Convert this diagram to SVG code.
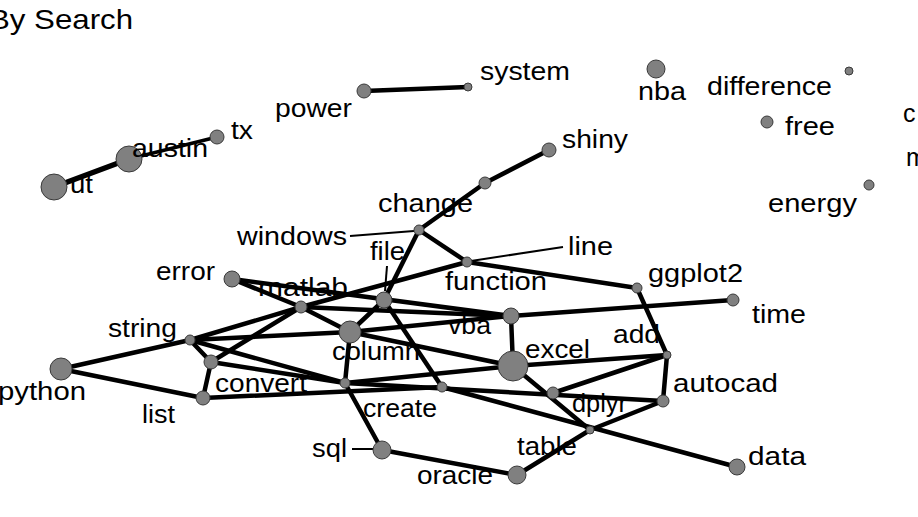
<svg xmlns="http://www.w3.org/2000/svg" width="918" height="517" viewBox="0 0 918 517">
<style>
.e{stroke:#000;stroke-width:4.5;stroke-linecap:round;fill:none}
.l{stroke:#000;stroke-width:2;fill:none}
.n{fill:#808080;stroke:#3a3a3a;stroke-width:1}
text{font-family:"Liberation Sans",Arial,sans-serif;font-size:25px;fill:#000}
.t{font-size:28px}
</style>
<rect width="918" height="517" fill="#fff"/>
<text class="t" x="-11" y="29" textLength="144" lengthAdjust="spacingAndGlyphs">By Search</text>
<g id="edges">
<line class="e" x1="54" y1="187" x2="129" y2="159" style="stroke-width:5.5"/>
<line class="e" x1="129" y1="159" x2="217" y2="137" style="stroke-width:3.5"/>
<line class="e" x1="364" y1="91" x2="468" y2="87"/>
<line class="e" x1="384" y1="300" x2="419" y2="230"/>
<line class="e" x1="419" y1="230" x2="485" y2="183"/>
<line class="e" x1="485" y1="183" x2="549" y2="150"/>
<line class="e" x1="419" y1="230" x2="467" y2="262"/>
<line class="e" x1="467" y1="262" x2="637" y2="288"/>
<line class="e" x1="301" y1="307" x2="467" y2="262"/>
<line class="e" x1="190" y1="340" x2="301" y2="307"/>
<line class="e" x1="232" y1="279" x2="511" y2="316"/>
<line class="e" x1="232" y1="279" x2="301" y2="307"/>
<line class="e" x1="301" y1="307" x2="350" y2="332"/>
<line class="e" x1="301" y1="307" x2="511" y2="316"/>
<line class="e" x1="511" y1="316" x2="513" y2="366"/>
<line class="e" x1="511" y1="316" x2="733" y2="300"/>
<line class="e" x1="350" y1="332" x2="511" y2="316"/>
<line class="e" x1="350" y1="332" x2="384" y2="300"/>
<line class="e" x1="350" y1="332" x2="345" y2="383"/>
<line class="e" x1="350" y1="332" x2="513" y2="366"/>
<line class="e" x1="190" y1="340" x2="350" y2="332"/>
<line class="e" x1="61" y1="369" x2="190" y2="340"/>
<line class="e" x1="61" y1="369" x2="203" y2="398"/>
<line class="e" x1="190" y1="340" x2="211" y2="362"/>
<line class="e" x1="211" y1="362" x2="301" y2="307"/>
<line class="e" x1="211" y1="362" x2="203" y2="398"/>
<line class="e" x1="211" y1="362" x2="345" y2="383"/>
<line class="e" x1="190" y1="340" x2="345" y2="383"/>
<line class="e" x1="203" y1="398" x2="442" y2="387"/>
<line class="e" x1="345" y1="383" x2="513" y2="366"/>
<line class="e" x1="345" y1="383" x2="663" y2="401"/>
<line class="e" x1="384" y1="300" x2="442" y2="387"/>
<line class="e" x1="442" y1="387" x2="737" y2="467"/>
<line class="e" x1="382" y1="450" x2="345" y2="383"/>
<line class="e" x1="382" y1="450" x2="517" y2="475"/>
<line class="e" x1="517" y1="475" x2="590" y2="430"/>
<line class="e" x1="590" y1="430" x2="663" y2="401"/>
<line class="e" x1="513" y1="366" x2="667" y2="355"/>
<line class="e" x1="553" y1="393" x2="667" y2="355"/>
<line class="e" x1="667" y1="355" x2="663" y2="401"/>
<line class="e" x1="637" y1="288" x2="667" y2="355"/>
<line class="e" x1="513" y1="366" x2="590" y2="430"/>
</g>
<g id="leaders">
<line class="l" x1="350" y1="236" x2="414" y2="231"/>
<line class="l" x1="387" y1="266" x2="385" y2="291"/>
<line class="l" x1="563" y1="247" x2="471" y2="261"/>
<line class="l" x1="352" y1="449" x2="373" y2="449"/>
</g>
<g id="node-ut"><circle class="n" cx="54" cy="187" r="13"/><text x="70" y="193" textLength="23" lengthAdjust="spacingAndGlyphs">ut</text></g>
<g id="node-austin"><circle class="n" cx="129" cy="159" r="13"/><text x="132" y="157" textLength="76" lengthAdjust="spacingAndGlyphs">austin</text></g>
<g id="node-tx"><circle class="n" cx="217" cy="137" r="7"/><text x="231" y="139" textLength="22" lengthAdjust="spacingAndGlyphs">tx</text></g>
<g id="node-power"><circle class="n" cx="364" cy="91" r="7"/><text x="275" y="117" textLength="77" lengthAdjust="spacingAndGlyphs">power</text></g>
<g id="node-system"><circle class="n" cx="468" cy="87" r="4"/><text x="480" y="80" textLength="90" lengthAdjust="spacingAndGlyphs">system</text></g>
<g id="node-nba"><circle class="n" cx="656" cy="69" r="9"/><text x="638" y="100" textLength="48" lengthAdjust="spacingAndGlyphs">nba</text></g>
<g id="node-difference"><circle class="n" cx="849" cy="71" r="4"/><text x="707" y="95" textLength="125" lengthAdjust="spacingAndGlyphs">difference</text></g>
<g id="node-free"><circle class="n" cx="767" cy="122" r="6"/><text x="785" y="135" textLength="50" lengthAdjust="spacingAndGlyphs">free</text></g>
<g id="node-energy"><circle class="n" cx="869" cy="185" r="5"/><text x="768" y="212" textLength="89" lengthAdjust="spacingAndGlyphs">energy</text></g>
<g id="label-c"><text x="903" y="122">c</text></g>
<g id="label-m"><text x="906" y="166">m</text></g>
<g id="node-shiny"><circle class="n" cx="549" cy="150" r="7"/><text x="562" y="148" textLength="66" lengthAdjust="spacingAndGlyphs">shiny</text></g>
<g id="node-change"><circle class="n" cx="485" cy="183" r="6"/><text x="378" y="212" textLength="95" lengthAdjust="spacingAndGlyphs">change</text></g>
<g id="node-windows"><circle class="n" cx="419" cy="230" r="5"/><text x="237" y="245" textLength="110" lengthAdjust="spacingAndGlyphs">windows</text></g>
<g id="node-file"><circle class="n" cx="384" cy="300" r="8"/><text x="370" y="260" textLength="35" lengthAdjust="spacingAndGlyphs">file</text></g>
<g id="node-function"><circle class="n" cx="467" cy="262" r="5"/><text x="445" y="290" textLength="102" lengthAdjust="spacingAndGlyphs">function</text><text x="568" y="255" textLength="45" lengthAdjust="spacingAndGlyphs">line</text></g>
<g id="node-ggplot2"><circle class="n" cx="637" cy="288" r="5"/><text x="648" y="282" textLength="95" lengthAdjust="spacingAndGlyphs">ggplot2</text></g>
<g id="node-time"><circle class="n" cx="733" cy="300" r="6"/><text x="752" y="323" textLength="54" lengthAdjust="spacingAndGlyphs">time</text></g>
<g id="node-error"><circle class="n" cx="232" cy="279" r="8"/><text x="156" y="280" textLength="59" lengthAdjust="spacingAndGlyphs">error</text></g>
<g id="node-matlab"><circle class="n" cx="301" cy="307" r="6"/><text x="258" y="296" textLength="90" lengthAdjust="spacingAndGlyphs">matlab</text></g>
<g id="node-string"><circle class="n" cx="190" cy="340" r="5"/><text x="108" y="337" textLength="69" lengthAdjust="spacingAndGlyphs">string</text></g>
<g id="node-vba"><circle class="n" cx="511" cy="316" r="8"/><text x="448" y="334" textLength="43" lengthAdjust="spacingAndGlyphs">vba</text></g>
<g id="node-column"><circle class="n" cx="350" cy="332" r="11"/><text x="332" y="360" textLength="88" lengthAdjust="spacingAndGlyphs">column</text></g>
<g id="node-excel"><circle class="n" cx="513" cy="366" r="15"/><text x="525" y="358" textLength="65" lengthAdjust="spacingAndGlyphs">excel</text></g>
<g id="node-add"><circle class="n" cx="667" cy="355" r="4"/><text x="613" y="343" textLength="47" lengthAdjust="spacingAndGlyphs">add</text></g>
<g id="node-python"><circle class="n" cx="61" cy="369" r="11"/><text x="-2" y="400" textLength="88" lengthAdjust="spacingAndGlyphs">python</text></g>
<g id="node-convert"><circle class="n" cx="211" cy="362" r="7"/><text x="215" y="392" textLength="92" lengthAdjust="spacingAndGlyphs">convert</text></g>
<g id="node-list"><circle class="n" cx="203" cy="398" r="7"/><text x="142" y="423" textLength="33" lengthAdjust="spacingAndGlyphs">list</text></g>
<g id="node-create"><circle class="n" cx="345" cy="383" r="5"/><text x="363" y="417" textLength="74" lengthAdjust="spacingAndGlyphs">create</text></g>
<g id="node-n442"><circle class="n" cx="442" cy="387" r="5"/></g>
<g id="node-dplyr"><circle class="n" cx="553" cy="393" r="6"/><text x="572" y="412" textLength="55" lengthAdjust="spacingAndGlyphs">dplyr</text></g>
<g id="node-autocad"><circle class="n" cx="663" cy="401" r="6"/><text x="673" y="392" textLength="105" lengthAdjust="spacingAndGlyphs">autocad</text></g>
<g id="node-table"><circle class="n" cx="590" cy="430" r="4"/><text x="517" y="455" textLength="60" lengthAdjust="spacingAndGlyphs">table</text></g>
<g id="node-sql"><circle class="n" cx="382" cy="450" r="9"/><text x="312" y="457" textLength="35" lengthAdjust="spacingAndGlyphs">sql</text></g>
<g id="node-oracle"><circle class="n" cx="517" cy="475" r="9"/><text x="417" y="484" textLength="76" lengthAdjust="spacingAndGlyphs">oracle</text></g>
<g id="node-data"><circle class="n" cx="737" cy="467" r="8"/><text x="748" y="465" textLength="58" lengthAdjust="spacingAndGlyphs">data</text></g>
</svg>
